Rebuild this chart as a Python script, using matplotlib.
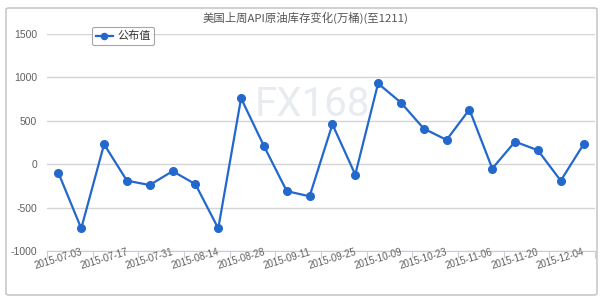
import matplotlib.pyplot as plt
from matplotlib.patches import FancyBboxPatch
import numpy as np

plt.rcParams['font.family'] = ['Noto Sans CJK SC', 'DejaVu Sans']

# weekly API crude inventory change (10k barrels)
dates = ['2015-07-03', '2015-07-10', '2015-07-17', '2015-07-24', '2015-07-31', '2015-08-07',
         '2015-08-14', '2015-08-21', '2015-08-28', '2015-09-04', '2015-09-11', '2015-09-18',
         '2015-09-25', '2015-10-02', '2015-10-09', '2015-10-16', '2015-10-23', '2015-10-30',
         '2015-11-06', '2015-11-13', '2015-11-20', '2015-11-27', '2015-12-04', '2015-12-11']
values = [-100, -740, 230, -190, -240, -80, -230, -740, 760, 210, -310, -370,
          460, -120, 930, 710, 410, 280, 630, -50, 260, 160, -190, 230]
yticks = [-1000, -500, 0, 500, 1000, 1500]

fig = plt.figure(figsize=(6.04, 3.02), dpi=100)

# outer frame
frame = FancyBboxPatch((6/604, 7/302), 591/604, 287/302, boxstyle='round,pad=0,rounding_size=0.005',
                       transform=fig.transFigure, facecolor='white', edgecolor='#c8c8c8', lw=1.2,
                       zorder=-10)
fig.patches.append(frame)

ax = fig.add_axes([47/604, 1 - 251/302, 548/604, 217/302])
ax.set_facecolor('none')
x = np.arange(len(values))

ax.text(0.485, 0.675, 'FX168', transform=ax.transAxes, fontsize=29, color='#e8ecf0',
        ha='center', va='center', family='Roboto', zorder=0)

ax.plot(x, values, color='#2368cc', lw=1.6, marker='o', markersize=5.5, label='公布值', zorder=3)

ax.set_xlim(-0.5, len(values) - 0.5)
ax.set_ylim(-1000, 1500)
ax.set_yticks(yticks)
ax.set_yticklabels([str(v) for v in yticks], fontsize=7.5, color='#606060', family='Liberation Sans')
ax.grid(axis='y', color='#d4d4d4', lw=1)
ax.tick_params(axis='y', length=0, pad=7)

# category ticks on boundaries, labels at every other category
ax.set_xticks(np.arange(-0.5, len(values), 2))
ax.set_xticklabels([])
ax.tick_params(axis='x', length=5, color='#c0d0e0')
for i in range(0, len(values), 2):
    ax.text(i, -1095, dates[i], rotation=17, ha='center', va='center', fontsize=7,
            color='#606060', family='Liberation Sans', rotation_mode='anchor')

for s in ['top', 'right', 'left']:
    ax.spines[s].set_visible(False)
ax.spines['bottom'].set_color('#c0d0e0')

fig.text(0.505, 1 - 18/302, '美国上周API原油库存变化(万桶)(至1211)', ha='center', va='center',
         fontsize=8.2, color='#555555')

leg = ax.legend(loc='upper left', bbox_to_anchor=(92/604, 1 - 27/302), bbox_transform=fig.transFigure,
                fontsize=8, frameon=True, fancybox=True, handlelength=1.5, borderpad=0.35,
                borderaxespad=0, handletextpad=0.4, labelcolor='#333333', markerscale=0.8)
leg.get_frame().set_edgecolor('#909090')
leg.get_frame().set_linewidth(0.8)

fig.savefig('out.png', dpi=100)
